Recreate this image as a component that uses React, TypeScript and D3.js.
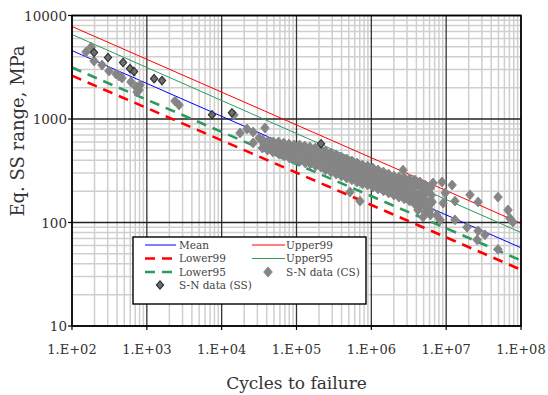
import React from 'react';
import * as d3 from 'd3';

// S-N data: [cycles, stress range MPa]
const csPoints: [number, number][] = [
  [154, 4440], [180, 4960], [197, 3630], [252, 3320], [312, 2910], [387, 2720], [425, 2600], [466, 2490],
  [614, 2280], [717, 2040], [786, 1905], [811, 2130], [739, 1820], [2380, 1490], [2690, 1365],
  [14600, 1095], [17600, 733], [21800, 800], [26300, 748], [31600, 655], [37900, 819], [26300, 587],
  [35500, 627], [36500, 573], [35000, 524],
  [41700, 613], [42800, 561], [41000, 501],
  [49000, 600], [50200, 536], [48300, 480],
  [57500, 600], [59000, 548], [56600, 501], [58400, 459],
  [67600, 586], [69300, 536], [66600, 480], [68600, 439],
  [79400, 573], [81400, 513], [78200, 469], [80600, 420],
  [93300, 561], [95600, 501], [91900, 449], [94700, 402],
  [110000, 561], [112700, 501], [108300, 439], [111600, 393],
  [129000, 548], [132200, 480], [127000, 429], [131000, 376],
  [151000, 536], [154800, 469], [148700, 420], [153300, 368],
  [178000, 524], [182400, 459], [175300, 402], [180700, 352],
  [209000, 513], [214200, 449], [205800, 393], [212100, 344],
  [245000, 490], [251100, 439], [241300, 393], [248700, 352], [245000, 322],
  [288000, 469], [295200, 420], [283700, 376], [292300, 336], [288000, 308],
  [339000, 449], [347500, 402], [333900, 360], [344100, 322], [339000, 294],
  [398000, 429], [408000, 384], [392000, 344], [404000, 308], [398000, 281],
  [468000, 411], [479700, 368], [461000, 329], [475000, 294], [468000, 269],
  [550000, 393], [563800, 352], [541800, 315], [558300, 281], [550000, 258],
  [646000, 376], [662000, 336], [636300, 301], [655700, 269], [646000, 246],
  [759000, 360], [778000, 322], [747600, 288], [770400, 258], [759000, 236],
  [891000, 352], [913300, 315], [877600, 281], [904400, 252], [891000, 230],
  [1050000, 336], [1076000, 301], [1034000, 269], [1066000, 241], [1050000, 220],
  [1230000, 322], [1261000, 288], [1212000, 258], [1248000, 230], [1230000, 211],
  [1450000, 308], [1486000, 275], [1428000, 246], [1472000, 220], [1450000, 202],
  [1700000, 294], [1743000, 263], [1675000, 236], [1726000, 211], [1700000, 193],
  [2000000, 281], [2050000, 252], [1970000, 225], [2030000, 202], [2000000, 184],
  [2340000, 275], [2399000, 246], [2305000, 220], [2375000, 197], [2340000, 176],
  [2750000, 269], [2819000, 241], [2709000, 216], [2791000, 188], [2750000, 169],
  [3240000, 263], [3321000, 230], [3191000, 206], [3289000, 180], [3240000, 161],
  [3800000, 258], [3895000, 225], [3743000, 197], [3857000, 173], [3800000, 151],
  [4470000, 246], [4582000, 216], [4403000, 188], [4537000, 165], [4470000, 141],
  [5250000, 230], [5381000, 197], [5171000, 169], [5329000, 144], [5250000, 126],
  [6170000, 216], [6324000, 184], [6077000, 154], [6170000, 118],
  [519000, 197], [706000, 161], [2650000, 321], [6670000, 241], [8800000, 246], [12000000, 230],
  [9700000, 193], [13100000, 161], [9100000, 154], [20800000, 185], [26700000, 158], [49300000, 176],
  [19000000, 90], [26700000, 83], [25900000, 68], [33000000, 76], [13100000, 106], [49300000, 55],
  [67000000, 132], [78000000, 101], [71000000, 110], [4200000, 132], [4900000, 113], [6100000, 132],
  [7500000, 118], [8300000, 106], [6500000, 158], [4900000, 165],
];

const ssPoints: [number, number][] = [
  [197, 4385], [303, 3925], [481, 3510], [596, 3070], [674, 2870], [1250, 2455], [1595, 2350],
  [7430, 1100], [13700, 1150], [213000, 577],
];

// design curves: stress at N = 1e2 and N = 1e8
const curveCycles = [1e2, 1e8];
const meanCurve = [4580, 57];
const upper99 = [7830, 98];
const upper95 = [6550, 80];
const lower95 = [3140, 43];
const lower99 = [2620, 35];

const xTickLabels = ['1.E+02', '1.E+03', '1.E+04', '1.E+05', '1.E+06', '1.E+07', '1.E+08'];
const yTickValues = [10, 100, 1000, 10000];

const width = 548;
const height = 395;
const margin = { top: 15.5, right: 27, bottom: 69, left: 72 };

const font = '"DejaVu Serif", "Liberation Serif", serif';
const green = '#2e9a5c';
const csGrey = '#858585';

const diamond = (s: number) => `M0,${-s * 1.15}L${s},0L0,${s * 1.15}L${-s},0Z`;

const App = () => {
  const x = d3.scaleLog().domain([1e2, 1e8]).range([margin.left, width - margin.right]);
  const y = d3.scaleLog().domain([10, 1e4]).range([height - margin.bottom, margin.top]);

  const line = d3.line<number>()
    .x((_, i) => x(curveCycles[i]))
    .y(d => y(d));

  const xMinor: number[] = [];
  for (let e = 2; e < 8; e++) for (let m = 2; m < 10; m++) xMinor.push(m * 10 ** e);
  const yMinor: number[] = [];
  for (let e = 1; e < 4; e++) for (let m = 2; m < 10; m++) yMinor.push(m * 10 ** e);
  const xMajor = d3.range(2, 9).map(e => 10 ** e);

  const [x0, x1] = x.range();
  const [y0, y1] = y.range();

  const lg = { x: 133, y: 237, w: 233, h: 67 };
  const rows = [245, 258.5, 272, 285];

  return (
    <svg width={width} height={height} style={{ position: 'absolute', left: 0, top: 0, background: '#fff' }}
      fontFamily={font}>
      <defs>
        <clipPath id="plot">
          <rect x={x0} y={y1} width={x1 - x0} height={y0 - y1} />
        </clipPath>
      </defs>

      {/* grid */}
      {xMinor.map(v => <line key={'xm' + v} x1={x(v)} x2={x(v)} y1={y1} y2={y0} stroke="#cfcfcf" strokeWidth={1.5} />)}
      {yMinor.map(v => <line key={'ym' + v} x1={x0} x2={x1} y1={y(v)} y2={y(v)} stroke="#cfcfcf" strokeWidth={1.5} />)}
      {xMajor.map(v => <line key={'xM' + v} x1={x(v)} x2={x(v)} y1={y1} y2={y0} stroke="#333" strokeWidth={1.3} />)}
      {yTickValues.map(v => <line key={'yM' + v} x1={x0} x2={x1} y1={y(v)} y2={y(v)} stroke="#222" strokeWidth={1.3} />)}

      <g clipPath="url(#plot)">
        <path d={line(meanCurve) ?? ''} fill="none" stroke="#0000ff" strokeWidth={1} />
        <path d={line(upper99) ?? ''} fill="none" stroke="#ff0000" strokeWidth={1} />
        <path d={line(upper95) ?? ''} fill="none" stroke={green} strokeWidth={1} />
        <path d={line(lower95) ?? ''} fill="none" stroke={green} strokeWidth={2.6} strokeDasharray="10,7" />
        <path d={line(lower99) ?? ''} fill="none" stroke="#ff0000" strokeWidth={2.6} strokeDasharray="10,7" />
        {csPoints.map((d, i) => (
          <path key={'cs' + i} d={diamond(4.3)} transform={`translate(${x(d[0])},${y(d[1])})`}
            fill={csGrey} stroke={csGrey} strokeWidth={0.9} />
        ))}
        {ssPoints.map((d, i) => (
          <path key={'ss' + i} d={diamond(3.6)} transform={`translate(${x(d[0])},${y(d[1])})`}
            fill="#6e6e6e" stroke="#333" strokeWidth={1.2} />
        ))}
      </g>

      {/* frame */}
      <rect x={x0} y={y1} width={x1 - x0} height={y0 - y1} fill="none" stroke="#000" strokeWidth={1.6} />

      {/* ticks + labels */}
      {xMajor.map((v, i) => (
        <g key={'xt' + v}>
          <line x1={x(v)} x2={x(v)} y1={y0} y2={y0 + 4} stroke="#000" strokeWidth={1.2} />
          <text x={x(v)} y={354} textAnchor="middle" fontSize={13} fill="#333">{xTickLabels[i]}</text>
        </g>
      ))}
      {yTickValues.map(v => (
        <g key={'yt' + v}>
          <line x1={x0 - 4} x2={x0} y1={y(v)} y2={y(v)} stroke="#000" strokeWidth={1.2} />
          <text x={x0 - 5} y={y(v) + 5} textAnchor="end" fontSize={13.5} fill="#333">{v}</text>
        </g>
      ))}

      <text x={(x0 + x1) / 2} y={389} textAnchor="middle" fontSize={17} fill="#333">Cycles to failure</text>
      <text transform="translate(24,131) rotate(-90)" textAnchor="middle" fontSize={18} fill="#333">Eq. SS range, MPa</text>

      {/* legend */}
      <rect x={lg.x} y={lg.y} width={lg.w} height={lg.h} fill="#fff" stroke="#000" strokeWidth={1.4} />
      <g fontSize={10.5} fill="#444">
        <line x1={145} x2={176} y1={rows[0]} y2={rows[0]} stroke="#0000ff" strokeWidth={1} />
        <text x={179} y={rows[0] + 3.5}>Mean</text>
        <line x1={252} x2={285} y1={rows[0]} y2={rows[0]} stroke="#ff0000" strokeWidth={1} />
        <text x={286} y={rows[0] + 3.5}>Upper99</text>

        <line x1={145} x2={176} y1={rows[1]} y2={rows[1]} stroke="#ff0000" strokeWidth={2.6} strokeDasharray="10,7" />
        <text x={179} y={rows[1] + 3.5}>Lower99</text>
        <line x1={252} x2={285} y1={rows[1]} y2={rows[1]} stroke={green} strokeWidth={1} />
        <text x={286} y={rows[1] + 3.5}>Upper95</text>

        <line x1={145} x2={176} y1={rows[2]} y2={rows[2]} stroke={green} strokeWidth={2.6} strokeDasharray="10,7" />
        <text x={179} y={rows[2] + 3.5}>Lower95</text>
        <path d={diamond(4.3)} transform={`translate(268,${rows[2]})`} fill={csGrey} stroke={csGrey} strokeWidth={0.9} />
        <text x={286} y={rows[2] + 3.5}>S-N data (CS)</text>

        <path d={diamond(3.6)} transform={`translate(160,${rows[3]})`} fill="#6e6e6e" stroke="#333" strokeWidth={1.2} />
        <text x={179} y={rows[3] + 3.5}>S-N data (SS)</text>
      </g>
    </svg>
  );
};

export default App;
